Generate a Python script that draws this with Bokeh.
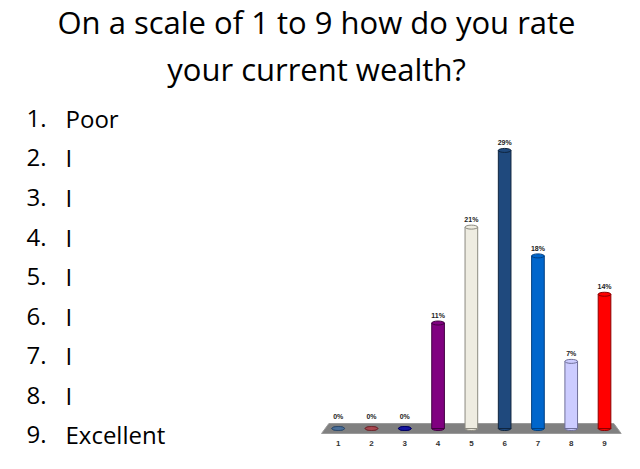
#Slide: how do you rate your current wealth (1 to 9)

#Import required packages

import numpy as np
from bokeh.plotting import figure
from bokeh.layouts import column, row
from bokeh.models import Range1d, FixedTicker, ColumnDataSource
from bokeh.core.properties import value
from bokeh.embed import file_html
from bokeh.resources import INLINE

#Slide text

title_lines = ["On a scale of 1 to 9 how do you rate", "your current wealth?"]
scale_labels = ["Poor", "I", "I", "I", "I", "I", "I", "I", "Excellent"]

#Chart data

ratings = [1, 2, 3, 4, 5, 6, 7, 8, 9]
percent = [0, 0, 0, 11, 21, 29, 18, 7, 14]

#Bar styles

bar_fill = ["#4A6F9A", "#A8464E", "#1414A0", "#800080", "#EEECE1",
            "#1F497D", "#0066CC", "#CCCCFF", "#FF0000"]
bar_line = ["#2F4A6A", "#6E2A30", "#000060", "#400040", "#8C8A80",
            "#10253F", "#003F80", "#6F6F99", "#8B0000"]

def blank(p):
    p.axis.visible = False
    p.grid.visible = False
    p.outline_line_color = None
    p.frame_align = False

#Title

head = figure(width=624, height=92, x_range=Range1d(0, 624), y_range=Range1d(2.255, 0.298),
              toolbar_location=None, output_backend="svg", min_border=0)
blank(head)
head.text(x=316, y=[1, 2], text=title_lines, text_font=value("Open Sans"),
          text_font_size="31px", text_align="center", text_baseline="alphabetic",
          y_offset=-12, text_color="#000000")

#Numbered list on the left

lst = figure(width=300, height=361, x_range=Range1d(0, 300), y_range=Range1d(9.253, 0.114),
             toolbar_location=None, output_backend="svg", min_border=0)
blank(lst)
lst.text(x=26, y=ratings, text=[f"{r}." for r in ratings], text_font=value("Open Sans"),
         text_font_size="24px", text_baseline="alphabetic", y_offset=-9,
         text_color="#000000")
lst.text(x=65, y=ratings, text=scale_labels, text_font=value("Open Sans"),
         text_font_size="24px", text_baseline="alphabetic", y_offset=-9,
         text_color="#000000")

#Cylinder bar chart

n = len(ratings)
data = ColumnDataSource(data={
    'x': ratings,
    'top': percent,
    'fill': bar_fill,
    'line': bar_line,
    'label_y': np.maximum(percent, 0.52),
    'label': [f"{v}%" for v in percent],
})

plot = figure(frame_width=324, frame_height=344, x_range=Range1d(-0.1325, 9.6),
              y_range=Range1d(-0.834, 35.04), toolbar_location=None, output_backend="svg",
              min_border=0, min_border_bottom=17)
plot.grid.visible = False
plot.outline_line_color = None
plot.frame_align = False
plot.yaxis.visible = False
plot.xaxis.ticker = FixedTicker(ticks=ratings)
plot.xaxis.axis_line_color = None
plot.xaxis.major_tick_line_color = None
plot.xaxis.major_tick_out = 0
plot.xaxis.minor_tick_line_color = None
plot.xaxis.minor_tick_out = 0
plot.xaxis.major_label_standoff = 4
plot.xaxis.major_label_text_font = "Liberation Sans"
plot.xaxis.major_label_text_font_size = "8px"
plot.xaxis.major_label_text_font_style = "bold"
plot.xaxis.major_label_text_color = "#333333"

#Grey floor

plot.patch(x=[0.5, n + 0.5, n + 0.28, 0.72], y=[-0.52, -0.52, 0.52, 0.52],
           fill_color="#808080", line_color="#9A9A9A")

plot.ellipse(x='x', y=0, width=0.38, height=4, height_units="screen", source=data,
             fill_color='fill', line_color='line')
plot.vbar(x='x', top='top', bottom=0, width=0.38, source=data,
          fill_color='fill', line_color='line')
plot.ellipse(x='x', y='top', width=0.38, height=4, height_units="screen", source=data,
             fill_color='fill', line_color='line')

plot.text(x='x', y='label_y', text='label', source=data, text_align="center",
          text_baseline="bottom", y_offset=-4, text_font=value("Liberation Sans"),
          text_font_size="7px", text_font_style="bold", text_color="#222222")

#Output the slide

layout = column(head, row(lst, plot))

open("out.html", "w").write(file_html(layout, INLINE))
